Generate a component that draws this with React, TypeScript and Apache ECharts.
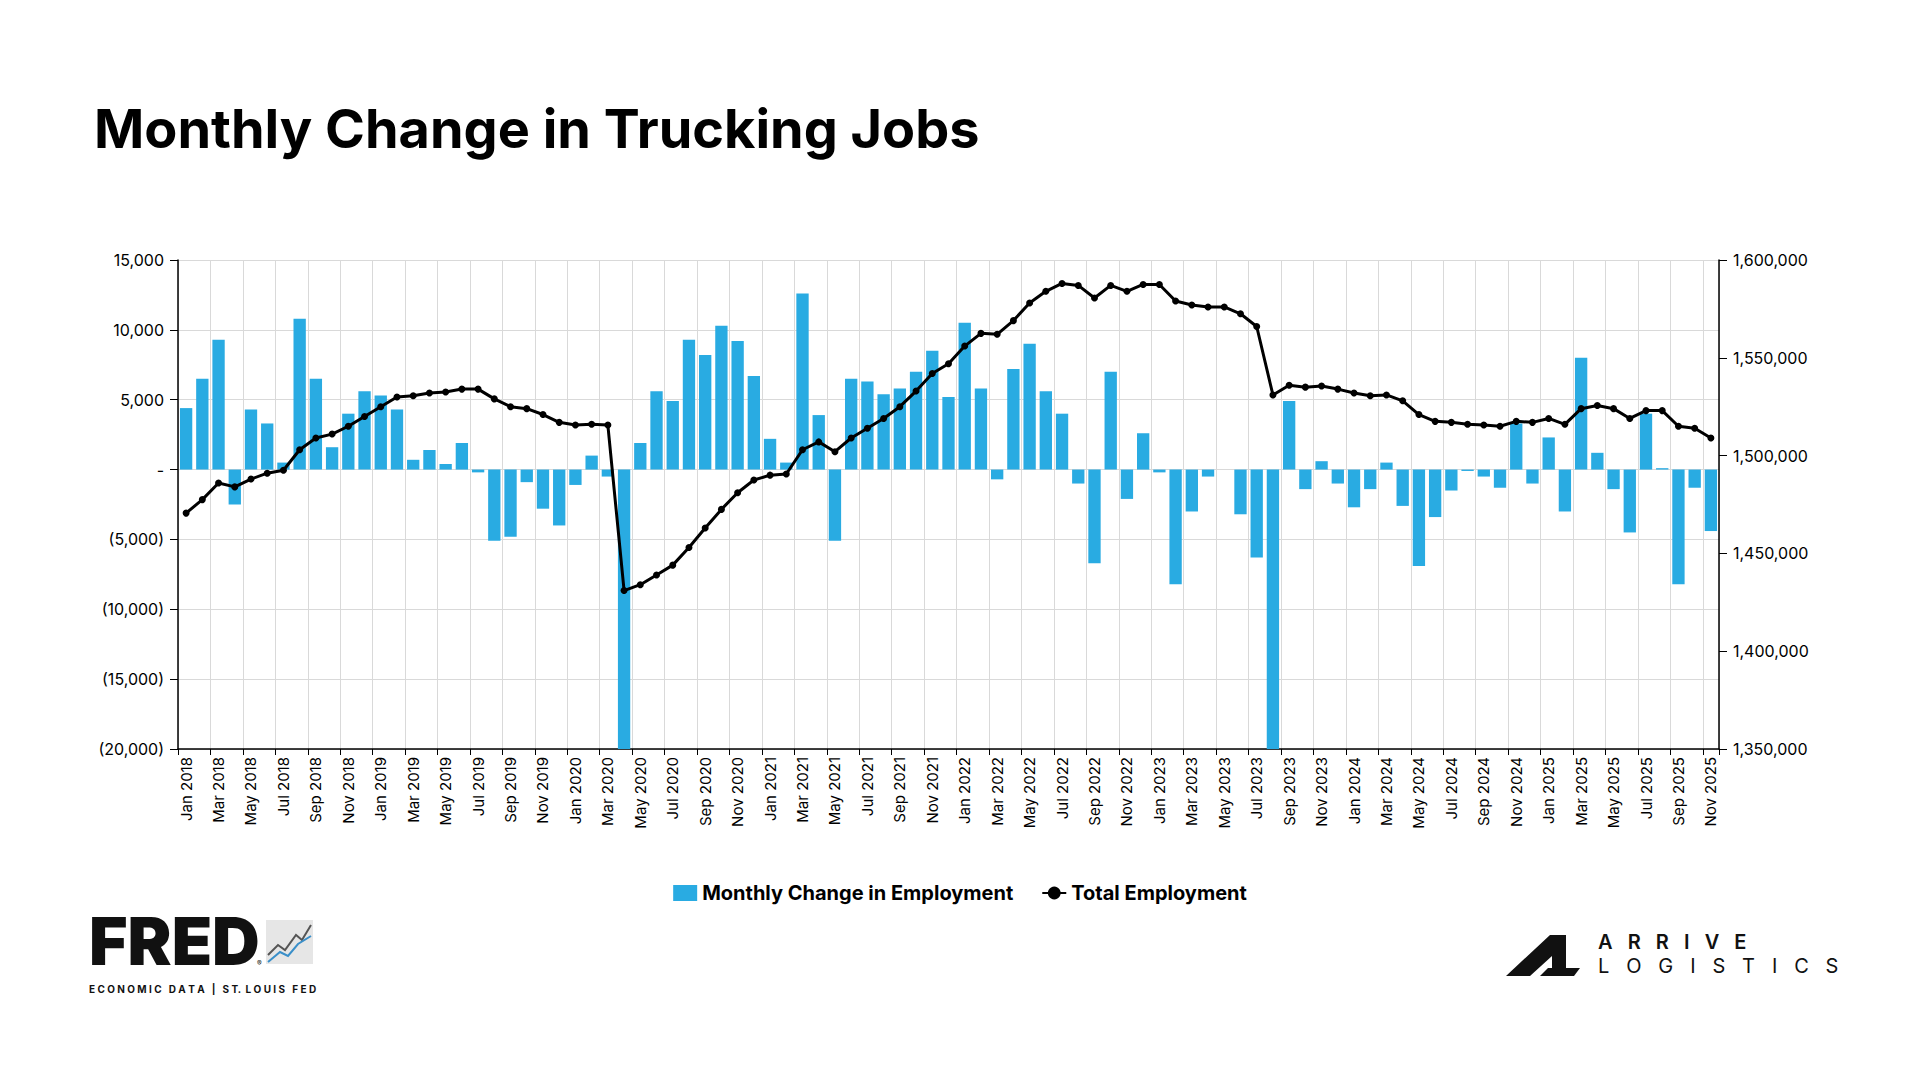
import { useEffect, useRef } from "react";
import * as echarts from "echarts";

const years = [2018, 2019, 2020, 2021, 2022, 2023, 2024, 2025];
const monthNames = ["Jan", "Feb", "Mar", "Apr", "May", "Jun", "Jul", "Aug", "Sep", "Oct", "Nov", "Dec"];
const months: string[] = [];
years.forEach((y) => monthNames.forEach((m) => months.push(`${m} ${y}`)));
months.splice(95);

// monthly change in employment
const monthlyChange = [
  4400, 6500, 9300, -2500, 4300, 3300, 500, 10800, 6500, 1600, 4000, 5600,
  5300, 4300, 700, 1400, 400, 1900, -200, -5100, -4800, -900, -2800, -4000,
  -1100, 1000, -500, -22000, 1900, 5600, 4900, 9300, 8200, 10300, 9200, 6700,
  2200, 500, 12600, 3900, -5100, 6500, 6300, 5400, 5800, 7000, 8500, 5200,
  10500, 5800, -700, 7200, 9000, 5600, 4000, -1000, -6700, 7000, -2100, 2600,
  -200, -8200, -3000, -500, 0, -3200, -6300, -22000, 4900, -1400, 600, -1000,
  -2700, -1400, 500, -2600, -6900, -3400, -1500, -100, -500, -1300, 3300, -1000,
  2300, -3000, 8000, 1200, -1400, -4500, 4000, 100, -8200, -1300, -4400,
];

// total employment, thousands
const totalEmployment = [
  1470.6, 1477.5, 1486, 1484, 1488, 1491, 1492.5, 1503, 1509, 1511, 1515, 1520,
  1525, 1530, 1530.6, 1532, 1532.5, 1534, 1534, 1529, 1525, 1524, 1521, 1517,
  1515.6, 1516, 1515.6, 1431, 1434, 1439, 1444, 1453, 1463, 1472.5, 1481, 1487.5,
  1490, 1490.6, 1503, 1507, 1502, 1509, 1514, 1519, 1525, 1533, 1542, 1547,
  1556, 1562.5, 1562, 1569, 1578, 1584, 1588, 1587, 1580.6, 1587, 1584, 1587.5,
  1587.5, 1579, 1577, 1576, 1576, 1572.5, 1566, 1531, 1536, 1535, 1535.6, 1534,
  1532, 1530.6, 1531, 1528, 1521, 1517.5, 1517, 1516, 1515.6, 1515, 1517.5, 1517,
  1519, 1516, 1524, 1525.6, 1524, 1519, 1523, 1523, 1515, 1514, 1509,
].map((v) => Math.round(v * 1000));

const FONT = "Inter, 'Noto Sans', sans-serif";
const BLUE = "#29abe2";

const fmtLeft = (v: number) => {
  if (v === 0) return "-";
  const s = Math.abs(v).toLocaleString("en-US");
  return v < 0 ? `(${s})` : s;
};

export default function App() {
  const ref = useRef<HTMLDivElement>(null);

  useEffect(() => {
    if (!ref.current) return;
    const chart = echarts.init(ref.current, null, { renderer: "svg" });
    chart.setOption({
      animation: false,
      backgroundColor: "#ffffff",
      textStyle: { fontFamily: FONT },
      title: {
        text: "Monthly Change in Trucking Jobs",
        left: 89,
        top: 96,
        textStyle: { fontSize: 54, fontWeight: "bold", color: "#000", fontFamily: FONT },
      },
      legend: {
        top: 878,
        left: "center",
        itemGap: 28,
        itemWidth: 24,
        itemHeight: 16,
        textStyle: { fontSize: 20, fontWeight: "bold", color: "#000", fontFamily: FONT },
        data: [
          { name: "Monthly Change in Employment", icon: "rect" },
          { name: "Total Employment" },
        ],
      },
      grid: { left: 178, right: 201, top: 260, bottom: 331 },
      xAxis: [
        {
          type: "category",
          data: months,
          position: "bottom",
          axisLine: { show: false },
          axisTick: { show: false },
          splitLine: { show: true, interval: 1, lineStyle: { color: "#d9d9d9" } },
          axisLabel: { interval: 1, rotate: 90, fontSize: 15, color: "#000", margin: 8 },
        },
        {
          type: "category",
          data: months,
          position: "bottom",
          axisLine: { show: true, onZero: true, lineStyle: { color: "#000", width: 1.5 } },
          axisTick: { show: true, interval: 1, length: 6, lineStyle: { color: "#000" } },
          axisLabel: { show: false },
          splitLine: { show: false },
        },
      ],
      yAxis: [
        {
          type: "value",
          min: -20000,
          max: 15000,
          interval: 5000,
          axisLine: { show: true, lineStyle: { color: "#000", width: 1.5 } },
          axisTick: { show: true, length: 8, lineStyle: { color: "#000" } },
          splitLine: { lineStyle: { color: "#d9d9d9" } },
          axisLabel: { formatter: fmtLeft, fontSize: 16, color: "#000", margin: 14 },
        },
        {
          type: "value",
          min: 1350000,
          max: 1600000,
          interval: 50000,
          position: "right",
          axisLine: { show: true, lineStyle: { color: "#000", width: 1.5 } },
          axisTick: { show: true, length: 8, lineStyle: { color: "#000" } },
          splitLine: { show: false },
          axisLabel: {
            formatter: (v: number) => v.toLocaleString("en-US"),
            fontSize: 16,
            color: "#000",
            margin: 14,
          },
        },
      ],
      series: [
        {
          name: "Monthly Change in Employment",
          type: "bar",
          data: monthlyChange,
          xAxisIndex: 0,
          yAxisIndex: 0,
          barCategoryGap: "24%",
          itemStyle: { color: BLUE },
        },
        {
          name: "Total Employment",
          type: "line",
          data: totalEmployment,
          xAxisIndex: 0,
          yAxisIndex: 1,
          symbol: "circle",
          symbolSize: 7,
          lineStyle: { color: "#000", width: 3 },
          itemStyle: { color: "#000" },
        },
      ],
      graphic: [
        {
          type: "text",
          left: 89,
          top: 908,
          style: { text: "FRED", font: `900 66px ${FONT}`, fill: "#111" },
        },
        {
          type: "text",
          left: 257,
          top: 960,
          style: { text: "®", font: `7px ${FONT}`, fill: "#111" },
        },
        {
          type: "rect",
          shape: { x: 266, y: 920, width: 47, height: 44 },
          style: { fill: "#e6e6e6" },
        },
        {
          type: "polyline",
          shape: { points: [[268, 955], [278, 945], [285, 950], [296, 935], [302, 940], [311, 925]] },
          style: { stroke: "#555", lineWidth: 2, fill: null },
        },
        {
          type: "polyline",
          shape: { points: [[268, 962], [280, 952], [288, 956], [298, 944], [311, 936]] },
          style: { stroke: "#3a8fc9", lineWidth: 2, fill: null },
        },
        {
          type: "text",
          left: 89,
          top: 984,
          style: { text: "E C O N O M I C   D A T A   |   S T.  L O U I S   F E D", font: `bold 10px ${FONT}`, fill: "#111" },
        },
        {
          type: "polygon",
          shape: { points: [[1506, 976], [1550, 935], [1566, 935], [1566, 976], [1552, 976], [1552, 956], [1530, 976]] },
          style: { fill: "#111" },
        },
        {
          type: "polygon",
          shape: { points: [[1540, 976], [1548, 968], [1580, 968], [1574, 976]] },
          style: { fill: "#111" },
        },
        {
          type: "text",
          left: 1598,
          top: 932,
          style: { text: "A   R   R   I   V   E", font: `600 20px ${FONT}`, fill: "#111" },
        },
        {
          type: "text",
          left: 1598,
          top: 956,
          style: { text: "L   O   G   I   S   T   I   C   S", font: `400 20px ${FONT}`, fill: "#111" },
        },
      ],
    });
    return () => chart.dispose();
  }, []);

  return (
    <div
      ref={ref}
      style={{ position: "absolute", left: 0, top: 0, width: 1920, height: 1080 }}
    />
  );
}
